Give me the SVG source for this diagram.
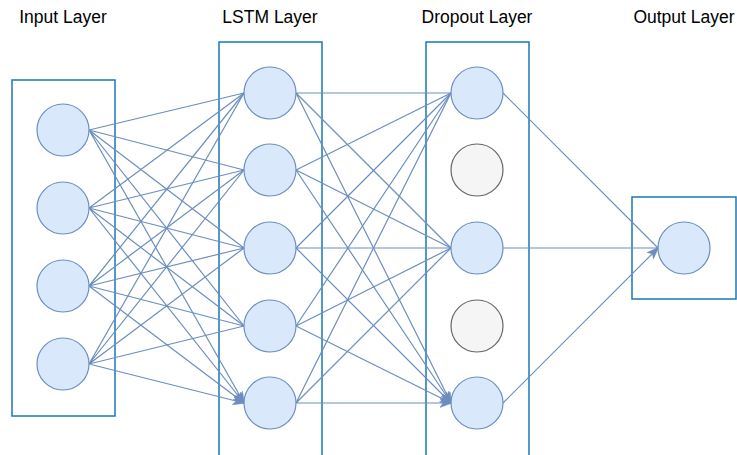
<svg xmlns="http://www.w3.org/2000/svg" width="737" height="455" viewBox="0 0 737 455">
<style>
.box{fill:#fff;stroke:#1a78b8;stroke-width:1.5}
.n{fill:#dae8fc;stroke:#6c8ebf;stroke-width:1.2}
.g{fill:#f5f5f5;stroke:#666;stroke-width:1.2}
.e{stroke:#6c8ebf;stroke-width:1.2;fill:none;marker-end:url(#a)}
.t{font-family:"Liberation Sans",Arial,sans-serif;font-size:17.5px;fill:#000;text-anchor:middle}
</style>
<defs>
<marker id="a" markerUnits="userSpaceOnUse" viewBox="0 0 12 9" refX="11" refY="4.5" markerWidth="12" markerHeight="9" orient="auto">
<path d="M0,0 L12,4.5 L0,9 L3,4.5 z" fill="#6c8ebf" stroke="#6c8ebf" stroke-width="0.5"/>
</marker>
</defs>
<rect width="737" height="455" fill="#fff"/>
<g id="labels">
<text class="t" x="63" y="23">Input Layer</text>
<text class="t" x="270" y="23">LSTM Layer</text>
<text class="t" x="477" y="23">Dropout Layer</text>
<text class="t" x="684" y="23">Output Layer</text>
</g>
<g id="input-layer"><rect class="box" x="12" y="80" width="103" height="336"/></g>
<g id="lstm-layer"><rect class="box" x="219" y="42" width="103" height="420"/></g>
<g id="dropout-layer"><rect class="box" x="426" y="42" width="103" height="420"/></g>
<g id="output-layer"><rect class="box" x="632" y="197" width="104" height="102"/></g>
<g id="connectors">
<path class="e" d="M89,130L244,93M89,130L244,170M89,130L244,248M89,130L244,326M89,130L244,403"/>
<path class="e" d="M89,208L244,93M89,208L244,170M89,208L244,248M89,208L244,326M89,208L244,403"/>
<path class="e" d="M89,286L244,93M89,286L244,170M89,286L244,248M89,286L244,326M89,286L244,403"/>
<path class="e" d="M89,364L244,93M89,364L244,170M89,364L244,248M89,364L244,326M89,364L244,403"/>
<path class="e" d="M296,93L451,93M296,93L451,248M296,93L451,403"/>
<path class="e" d="M296,170L451,93M296,170L451,248M296,170L451,403"/>
<path class="e" d="M296,248L451,93M296,248L451,248M296,248L451,403"/>
<path class="e" d="M296,326L451,93M296,326L451,248M296,326L451,403"/>
<path class="e" d="M296,403L451,93M296,403L451,248M296,403L451,403"/>
<path class="e" d="M503,93L658,248M503,248L658,248M503,403L658,248"/>
</g>
<g id="in1"><circle class="n" cx="63" cy="130" r="26"/></g>
<g id="in2"><circle class="n" cx="63" cy="208" r="26"/></g>
<g id="in3"><circle class="n" cx="63" cy="286" r="26"/></g>
<g id="in4"><circle class="n" cx="63" cy="364" r="26"/></g>
<g id="l1"><circle class="n" cx="270" cy="93" r="26"/></g>
<g id="l2"><circle class="n" cx="270" cy="170" r="26"/></g>
<g id="l3"><circle class="n" cx="270" cy="248" r="26"/></g>
<g id="l4"><circle class="n" cx="270" cy="326" r="26"/></g>
<g id="l5"><circle class="n" cx="270" cy="403" r="26"/></g>
<g id="d1"><circle class="n" cx="477" cy="93" r="26"/></g>
<g id="d2"><circle class="g" cx="477" cy="170" r="26"/></g>
<g id="d3"><circle class="n" cx="477" cy="248" r="26"/></g>
<g id="d4"><circle class="g" cx="477" cy="326" r="26"/></g>
<g id="d5"><circle class="n" cx="477" cy="403" r="26"/></g>
<g id="o1"><circle class="n" cx="684" cy="248" r="26"/></g>
</svg>
